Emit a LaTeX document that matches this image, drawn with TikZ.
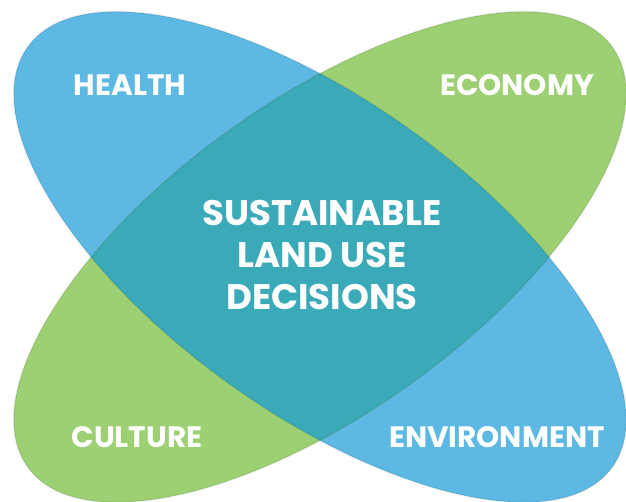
\documentclass[tikz,border=0pt]{standalone}
\usepackage{fontspec}
\setmainfont{Poppins}
\definecolor{blueC}{HTML}{5DB9E4}
\definecolor{greenC}{HTML}{9DCF73}
\definecolor{tealC}{HTML}{3AAAB8}
\begin{document}
\begin{tikzpicture}[x=1pt,y=1pt,
  lbl/.style={text=white,font=\bfseries\fontsize{29.5}{29.5}\selectfont,inner sep=0pt},
  ctr/.style={text=white,font=\bfseries\fontsize{35.5}{42}\selectfont,align=center,inner sep=0pt},
  blueleaf/.style={rotate around={-35.7:(320,245)}},
  greenleaf/.style={rotate around={35.7:(320,245)}},
  edge/.style={draw=black,draw opacity=0.08,line width=1.5pt}]
\useasboundingbox (0,0) rectangle (626,502);
\fill[blueC,blueleaf] (320,245) ellipse [x radius=360,y radius=156];
\fill[greenC,greenleaf] (320,245) ellipse [x radius=360,y radius=156];
\begin{scope}
  \clip[blueleaf] (320,245) ellipse [x radius=360,y radius=156];
  \fill[tealC,greenleaf] (320,245) ellipse [x radius=360,y radius=156];
\end{scope}
\path[edge,blueleaf] (320,245) ellipse [x radius=360,y radius=156];
\path[edge,greenleaf] (320,245) ellipse [x radius=360,y radius=156];
\node[lbl] (health) at (130,417) {HEALTH};
\node[lbl] (economy) at (517,417) {ECONOMY};
\node[lbl] (culture) at (137,65) {CULTURE};
\node[lbl] (environment) at (497,65) {ENVIRONMENT};
\node[ctr] (center) at (322,247) {SUSTAINABLE\\LAND USE\\DECISIONS};
\end{tikzpicture}
\end{document}
